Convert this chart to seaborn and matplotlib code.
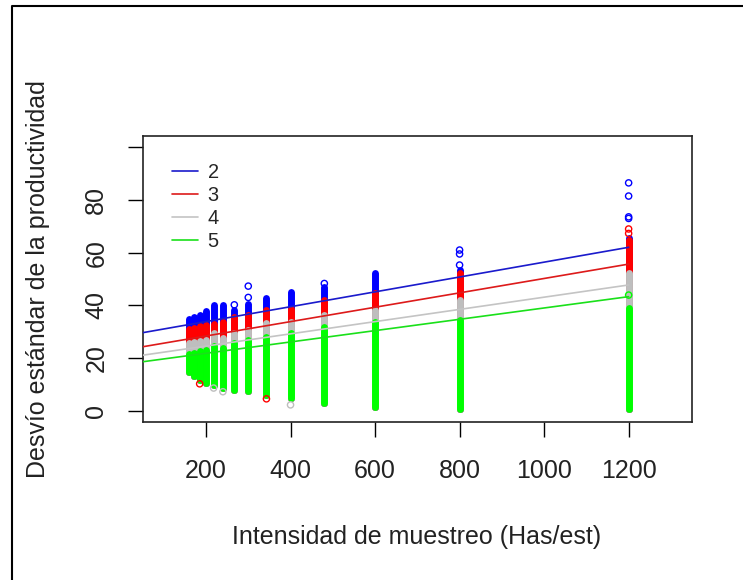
import numpy as np
import pandas as pd
import seaborn as sns
import matplotlib
matplotlib.use("Agg")
import matplotlib.pyplot as plt
from matplotlib.lines import Line2D

# intensidad de muestreo = 2400 ha / n estaciones
intensidad = [160, 171, 185, 200, 218, 240, 267, 300, 343, 400, 480, 600, 800, 1200]

# limites de cada columna de puntos
tope_2 = [35.0, 35.5, 36.5, 37.8, 40.0, 40.0, 38.2, 40.5, 42.6, 45.2, 47.1, 52.1, 53.5, 65.5]
tope_3 = [31.0, 31.5, 32.0, 32.5, 33.0, 33.8, 35.7, 36.5, 38.2, 38.5, 42.0, 44.5, 52.1, 64.8]
tope_4 = [25.6, 26.0, 26.5, 27.0, 29.4, 27.5, 29.4, 30.6, 33.2, 33.8, 36.3, 38.2, 42.0, 52.1]
tope_5 = [21.5, 22.0, 22.5, 23.0, 24.5, 23.7, 25.6, 26.8, 28.0, 29.4, 31.9, 33.8, 34.4, 38.9]
piso = [14.8, 13.0, 11.6, 10.4, 9.8, 8.5, 7.9, 7.5, 6.0, 4.7, 2.8, 1.5, 0.5, 0.5]

# puntos sueltos
out_x = [300, 300, 267, 480, 800, 800, 800, 1200, 1200, 1200, 1200,
         1200, 1200, 185, 343,
         218, 240, 400,
         1200]
out_y = [47.3, 43.0, 40.2, 48.3, 61.0, 59.5, 55.3, 86.5, 81.5, 73.6, 73.0,
         69.0, 67.3, 10.2, 4.5,
         8.6, 7.2, 2.2,
         43.9]
out_g = ["2"] * 11 + ["3"] * 4 + ["4"] * 3 + ["5"]

# rectas de regresion por grupo
grupos = ["2", "3", "4", "5"]
ordenada = [28.2, 22.9, 19.9, 17.5]
pendiente = [0.0282, 0.0273, 0.0232, 0.0215]
rango_ajuste = [0, 1200]

colores_pts = {"2": "#0000FF", "3": "#FF0000", "4": "#BEBEBE", "5": "#00FF00"}
colores_lin = {"2": "#1a1acc", "3": "#dd1a1a", "4": "#c4c4c4", "5": "#1ae01a"}

sns.set_style("ticks")
plt.rcParams["font.family"] = ["Liberation Sans", "DejaVu Sans"]

fig = plt.figure(figsize=(7.43, 5.80), dpi=100)
ax = fig.add_axes([0.1925, 0.2724, 0.7389, 0.4931])

topes = {"2": tope_2, "3": tope_3, "4": tope_4, "5": tope_5}
for g in grupos:
    lc = ax.vlines(intensidad, piso, topes[g], colors=colores_pts[g],
                   linewidth=5, zorder=2)
    lc.set_capstyle("round")

for g in grupos:
    sel = [i for i, gg in enumerate(out_g) if gg == g]
    sns.scatterplot(x=[out_x[i] for i in sel], y=[out_y[i] for i in sel],
                    ax=ax, s=20, facecolor="none", edgecolor=colores_pts[g],
                    linewidth=1.0, zorder=3)

rows = []
for g, a, b in zip(grupos, ordenada, pendiente):
    for xv in rango_ajuste:
        rows.append({"x": xv, "y": a + b * xv, "grupo": g})
lineas = pd.DataFrame(rows)
sns.lineplot(data=lineas, x="x", y="y", hue="grupo", palette=colores_lin,
             estimator=None, sort=False, linewidth=1.2, ax=ax, zorder=4)

h, l = ax.get_legend_handles_labels()
ax.legend(h, l, loc="upper left", bbox_to_anchor=(0.052, 0.906),
          frameon=False, fontsize=14.4, handlelength=1.3,
          handletextpad=0.5, labelspacing=0.2, borderpad=0, borderaxespad=0)

ax.set_xlim(51, 1350)
ax.set_ylim(-4.3, 104.3)
ax.set_xticks([200, 400, 600, 800, 1000, 1200])
ax.set_yticks([0, 20, 40, 60, 80, 100])
ax.set_yticklabels(["0", "20", "40", "60", "80", ""])
ax.tick_params(axis="both", length=11, width=1, labelsize=18, color="black",
               labelcolor="#222222", direction="out")
ax.tick_params(axis="x", pad=15.5)
ax.tick_params(axis="y", pad=14)
for t in ax.get_yticklabels():
    t.set_rotation(90)
    t.set_va("center")

for s in ax.spines.values():
    s.set_visible(True)
    s.set_color("#222222")
    s.set_linewidth(1.2)

ax.set_xlabel("Intensidad de muestreo (Has/est)", fontsize=18, color="#222222")
ax.set_ylabel("Desvío estándar de la productividad", fontsize=18, color="#222222")
ax.xaxis.set_label_coords(0.498, -0.36)
ax.yaxis.set_label_coords(-0.17, 0.5)

# borde exterior (solo izquierda y arriba)
fig.add_artist(Line2D([0.0168, 0.0168, 1.0], [0.0, 0.9888, 0.9888],
                      transform=fig.transFigure, color="black", linewidth=1.5))

fig.savefig("out.png", dpi=100)
